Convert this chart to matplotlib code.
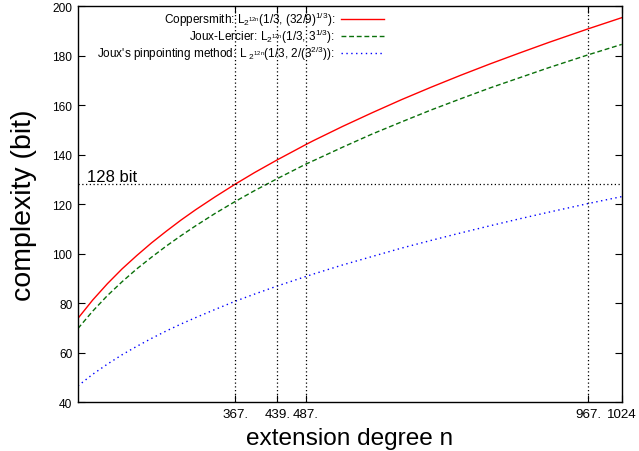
import numpy as np
import matplotlib
matplotlib.use("Agg")
import matplotlib.pyplot as plt

plt.rcParams["font.family"] = ["Liberation Sans", "DejaVu Sans"]
plt.rcParams["mathtext.fontset"] = "custom"
plt.rcParams["mathtext.rm"] = "Liberation Sans"
plt.rcParams["mathtext.it"] = "Liberation Sans"

# === Data ===
n = [100, 125, 150, 175, 200, 225, 250, 275, 300, 333, 367, 400, 439, 487, 500,
     550, 600, 650, 700, 750, 800, 850, 900, 967, 1024]
coppersmith = [73.8, 81.2, 87.8, 93.8, 99.2, 104.3, 109.0, 113.5, 117.7, 122.9,
               128.0, 132.7, 137.9, 144.0, 145.6, 151.4, 156.9, 162.2, 167.2,
               172.0, 176.6, 181.0, 185.3, 190.8, 195.3]
joux_lercier = [69.7, 76.7, 83.0, 88.6, 93.8, 98.5, 103.0, 107.2, 111.2, 116.2,
                121.0, 125.4, 130.3, 136.1, 137.5, 143.0, 148.3, 153.2, 158.0,
                162.5, 166.9, 171.0, 175.1, 180.3, 184.5]
pinpointing = [46.5, 51.2, 55.3, 59.1, 62.5, 65.7, 68.7, 71.5, 74.1, 77.4,
               80.7, 83.6, 86.9, 90.7, 91.7, 95.4, 98.8, 102.2, 105.3,
               108.3, 111.2, 114.0, 116.7, 120.2, 123.0]

marks = [367, 439, 487, 967, 1024]
mark_labels = ["367.", "439.", "487.", "967.", "1024"]
level = 128

# === Figure ===
fig = plt.figure(figsize=(6.39, 4.52), dpi=100)
ax = fig.add_axes([0.122, 0.1084, 0.851, 0.876])

ax.plot(n, coppersmith, color="#ff0000", lw=1.0,
        label=r"Coppersmith: L$_{2^{12n}}$(1/3, (32/9)$^{1/3}$):")
ax.plot(n, joux_lercier, color="#0a700a", lw=1.0, linestyle=(0, (3.5, 2)),
        label=r"Joux-Lercier: L$_{2^{12n}}$(1/3, 3$^{1/3}$):")
ax.plot(n, pinpointing, color="#0000ff", lw=1.0, linestyle=(0, (1, 2.5)),
        label=r"Joux's pinpointing method: L $_{2^{12n}}$(1/3, 2/(3$^{2/3}$)):")

for m in marks[:-1]:
    ax.axvline(m, color="black", lw=0.9, linestyle=(0, (1, 2)))
ax.axhline(level, color="black", lw=0.9, linestyle=(0, (1, 2)))
ax.text(115, 129.2, "128 bit", fontsize=12, ha="left", va="baseline")

ax.set_xlim(100, 1024)
ax.set_ylim(40, 200)
ax.set_xticks(marks)
ax.set_xticklabels(mark_labels, fontsize=9.6)
ax.set_yticks(np.arange(40, 201, 20))
ax.tick_params(axis="y", labelsize=8.6)
ax.tick_params(direction="in", length=5, width=0.8, top=True, right=True, pad=4)
for s in ax.spines.values():
    s.set_linewidth(1.0)

ax.set_xlabel("extension degree n", fontsize=17.6, va="top")
ax.xaxis.set_label_coords(0.5, -0.062)
ax.set_ylabel("complexity (bit)", fontsize=20.5)
ax.yaxis.set_label_coords(-0.076, 0.5)

ax.legend(loc="upper right", bbox_to_anchor=(0.575, 1.008), frameon=False,
          markerfirst=False, fontsize=8.5, handlelength=3.6, labelspacing=-0.12,
          handletextpad=0.5, borderaxespad=0.2)

fig.savefig("out.png", dpi=100)
